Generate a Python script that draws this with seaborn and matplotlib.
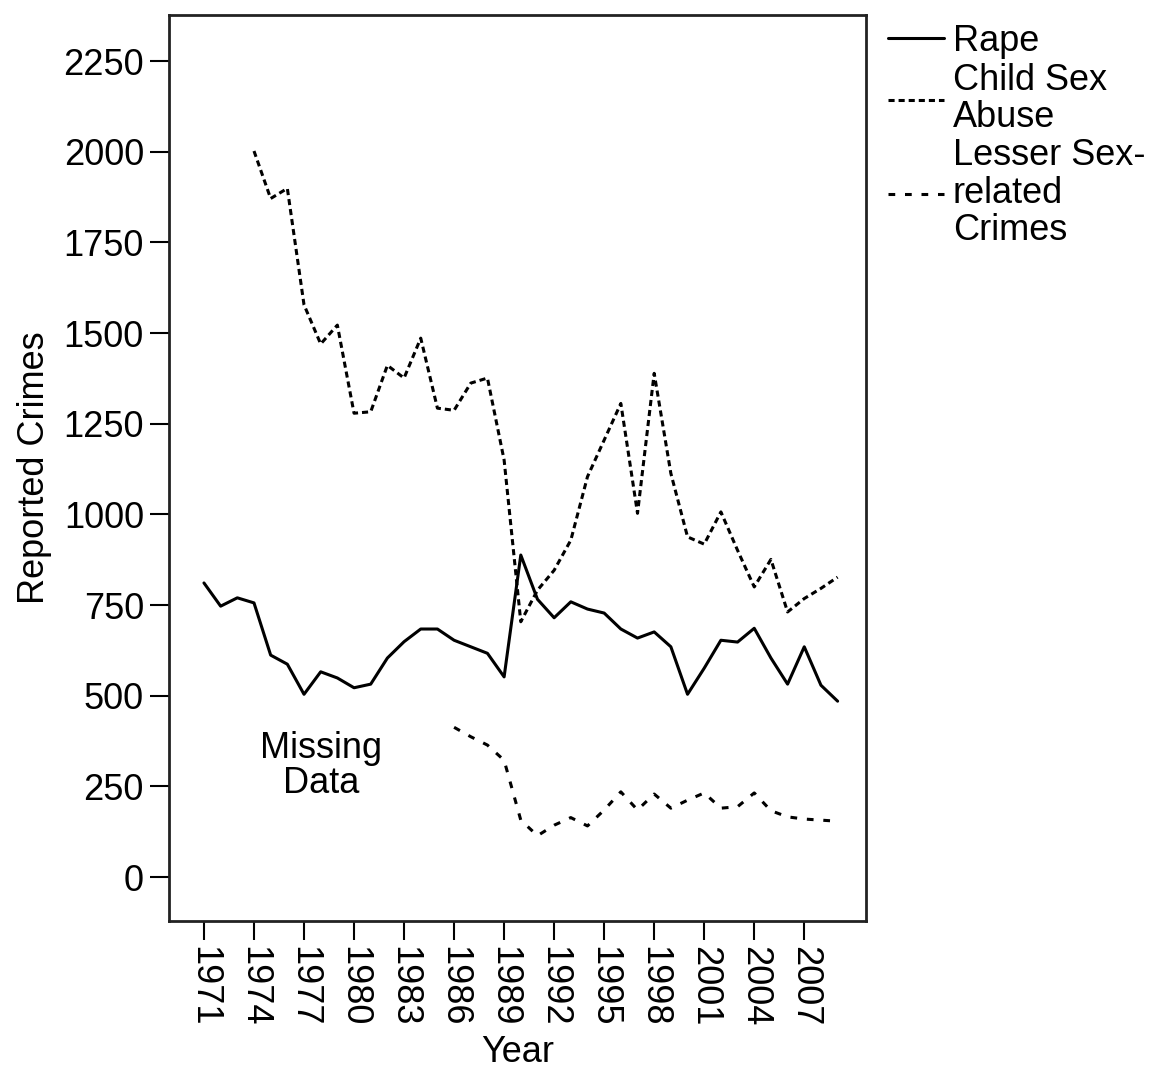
import numpy as np
import pandas as pd
import matplotlib
matplotlib.use("Agg")
import matplotlib.pyplot as plt
import seaborn as sns

# data
years_rape = list(range(1971, 2010))
rape = [811, 747, 770, 756, 612, 587, 504, 566, 549, 522,
        532, 604, 649, 684, 684, 653, 635, 617, 552, 888,
        766, 715, 759, 739, 728, 684, 659, 676, 635, 504,
        576, 653, 648, 686, 604, 532, 635, 529, 485]

years_child = list(range(1974, 2010))
child = [2002, 1871, 1899, 1578, 1470, 1522, 1279, 1283, 1411, 1376,
         1486, 1293, 1287, 1362, 1376, 1150, 704, 791, 846, 929,
         1104, 1205, 1306, 1003, 1389, 1113, 938, 918, 1007, 901,
         800, 876, 731, 768, 796, 827]

years_lesser = list(range(1986, 2010))
lesser = [413, 387, 364, 322, 157, 114, 143, 164, 141, 185,
          235, 185, 229, 190, 212, 232, 190, 194, 232, 183,
          166, 160, 157, 154]

labels = ["Rape", "Child Sex\nAbuse", "Lesser Sex-\nrelated\nCrimes"]
xticks = list(range(1971, 2008, 3))
yticks = list(range(0, 2251, 250))

df = pd.concat([
    pd.DataFrame({"Year": years_rape, "Reported Crimes": rape, "Crime": labels[0]}),
    pd.DataFrame({"Year": years_child, "Reported Crimes": child, "Crime": labels[1]}),
    pd.DataFrame({"Year": years_lesser, "Reported Crimes": lesser, "Crime": labels[2]}),
])

sns.set_theme(style="ticks")
plt.rcParams["font.family"] = ["Liberation Sans", "DejaVu Sans"]
plt.rcParams["text.color"] = "black"
plt.rcParams["axes.labelcolor"] = "black"
plt.rcParams["xtick.color"] = "black"
plt.rcParams["ytick.color"] = "black"

fs = 26
fig = plt.figure(figsize=(11.54, 10.73), dpi=100)
ax = fig.add_axes([0.1464, 0.1417, 0.604, 0.8443])

sns.lineplot(data=df, x="Year", y="Reported Crimes", style="Crime",
             style_order=labels, color="black", linewidth=2.2,
             dashes={labels[0]: "", labels[1]: (2.0, 1.3), labels[2]: (2.2, 3.2)},
             ax=ax)

ax.set_xlim(1968.9, 2010.7)
ax.set_ylim(-121, 2377)
ax.set_xticks(xticks)
ax.set_xticklabels([str(y) for y in xticks], rotation=-90, fontsize=fs)
ax.set_yticks(yticks)
ax.set_yticklabels([str(y) for y in yticks], fontsize=fs)
ax.tick_params(axis="both", length=14, width=1.5, color="black", pad=4)
for s in ax.spines.values():
    s.set_linewidth(2)
    s.set_color("#222222")
ax.set_xlabel("Year", fontsize=fs, labelpad=6)
ax.set_ylabel("Reported Crimes", fontsize=fs, labelpad=8)

ax.text(1978, 307, "Missing\nData", fontsize=fs, ha="center", va="center",
        linespacing=1.0)

handles, _ = ax.get_legend_handles_labels()
ax.legend(handles=handles, labels=labels, loc="upper left",
          bbox_to_anchor=(1.0, 1.014), frameon=False, fontsize=fs,
          handlelength=1.55, handletextpad=0.25, labelspacing=0.1,
          borderaxespad=0.2)
for t in ax.get_legend().get_texts():
    t.set_linespacing(1.08)

fig.savefig("out.png", dpi=100)
